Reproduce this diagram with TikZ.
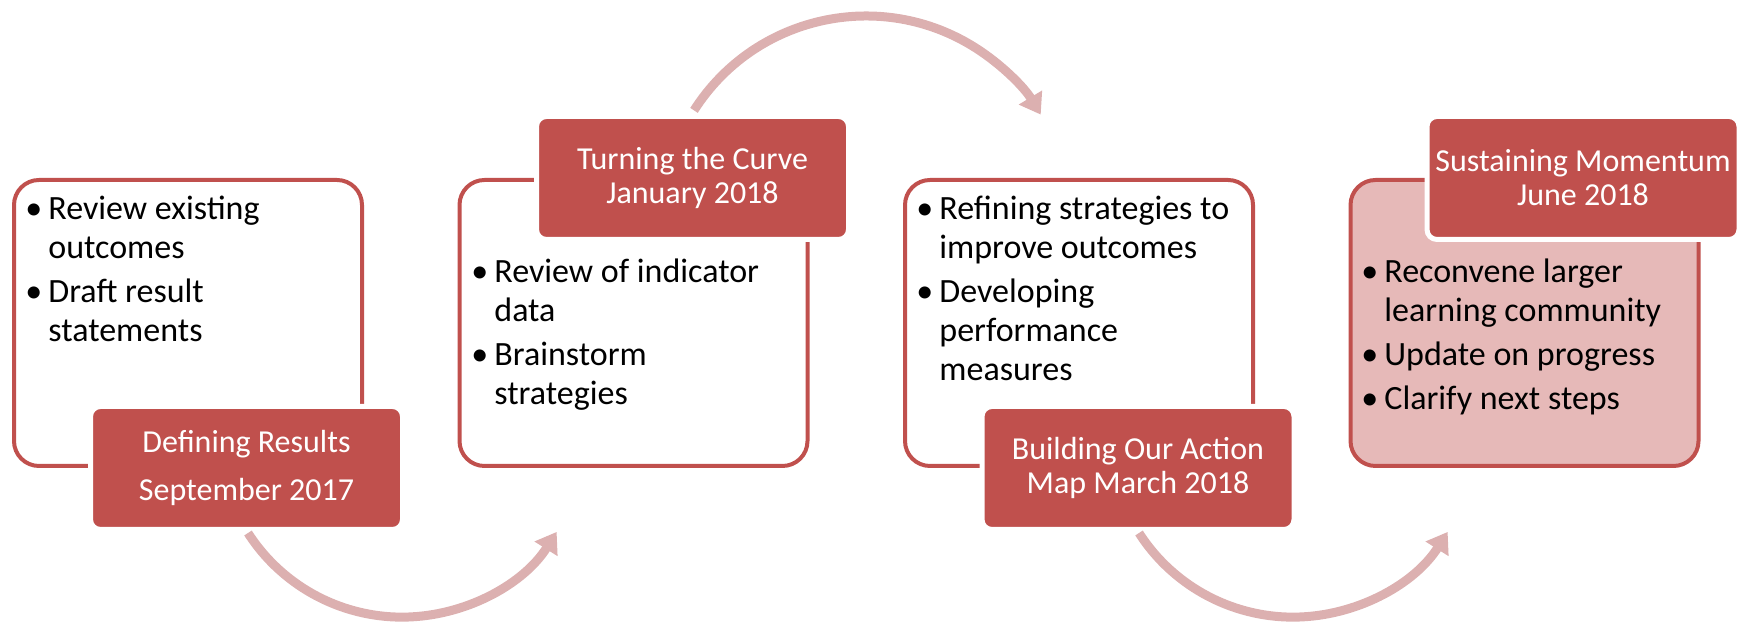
\documentclass[tikz,border=0pt]{standalone}
\usepackage{fontspec}
\setmainfont{Carlito}
\usepackage{xcolor}
\usetikzlibrary{arrows.meta,positioning}

\definecolor{stageRed}{HTML}{C0504D}
\definecolor{stagePink}{HTML}{E6B9B8}
\definecolor{flowPink}{HTML}{DCB0B0}

% one bullet line, hanging indent
\newcommand{\bul}[1]{\hangindent=9pt\hangafter=1\noindent\strut\makebox[9pt][l]{\hspace{-2.5pt}\textbullet}#1\par}

\begin{document}
\begin{tikzpicture}[
            x = 0.5pt, y = 0.5pt, % one unit = one pixel
            block/.style = {draw = stageRed, line width = 2pt, rounded corners = 12.5pt,
                minimum width = 174pt, minimum height = 143pt, inner sep = 0pt},
            stage/.style = {fill = stageRed, draw = white, line width = 2.5pt, rounded corners = 5pt,
                minimum width = 156pt, minimum height = 61.5pt, inner sep = 0pt,
                text = white, align = center, font = \fontsize{16}{17}\selectfont},
            pts/.style = {anchor = north west, inner sep = 0pt, text width = 172pt, align = flush left,
                font = \fontsize{17}{19.5}\selectfont\setlength{\parskip}{2.5pt}},
            flow/.style = {draw = flowPink, line width = 4.5pt,
                -{Triangle[length = 10pt, width = 13pt]}}
        ]

        \useasboundingbox (0,0) rectangle (1744,624);

        % Boxes
        \node[block] (b1) [at={(188,301)}] {};
        \node[block] (b2) [at={(633.5,301)}] {};
        \node[block] (b3) [at={(1079,301)}] {};
        \node[block, fill = stagePink] (b4) [at={(1524.5,301)}] {};

        % Bullets
        \node[pts] (t1) [at={(30,432)}] {%
            \bul{Review existing\newline outcomes}
            \bul{Draft result\newline statements}};
        \node[pts] (t2) [at={(476,369)}] {%
            \bul{Review of indicator\newline data}
            \bul{Brainstorm\newline strategies}};
        \node[pts] (t3) [at={(921,432)}] {%
            \bul{Refining strategies to\newline improve outcomes}
            \bul{Developing\newline performance\newline measures}};
        \node[pts] (t4) [at={(1366,369)}] {%
            \bul{Reconvene larger\newline learning community}
            \bul{Update on progress}
            \bul{Clarify next steps}};

        % Stages
        \node[stage] (l1) [at={(246.5,156)}] {Defining Results\\[7pt]September 2017};
        \node[stage] (l2) [at={(692.5,446)}] {Turning the Curve\\January 2018};
        \node[stage] (l3) [at={(1138,156)}] {Building Our Action\\Map March 2018};
        \node[stage] (l4) [at={(1583,446)}] {Sustaining Momentum\\June 2018};

        % Arrows
        \coordinate (a1) at (248,91);
        \coordinate (a2) at (694,513.6);
        \coordinate (a3) at (1139,91);
        \draw[flow] (a1) arc[start angle = 212.7, end angle = 327.7, radius = 183];
        \draw[flow] (a2) arc[start angle = 147.5, end angle = 31.1, radius = 204];
        \draw[flow] (a3) arc[start angle = 212.7, end angle = 327.7, radius = 183];

\end{tikzpicture}
\end{document}
